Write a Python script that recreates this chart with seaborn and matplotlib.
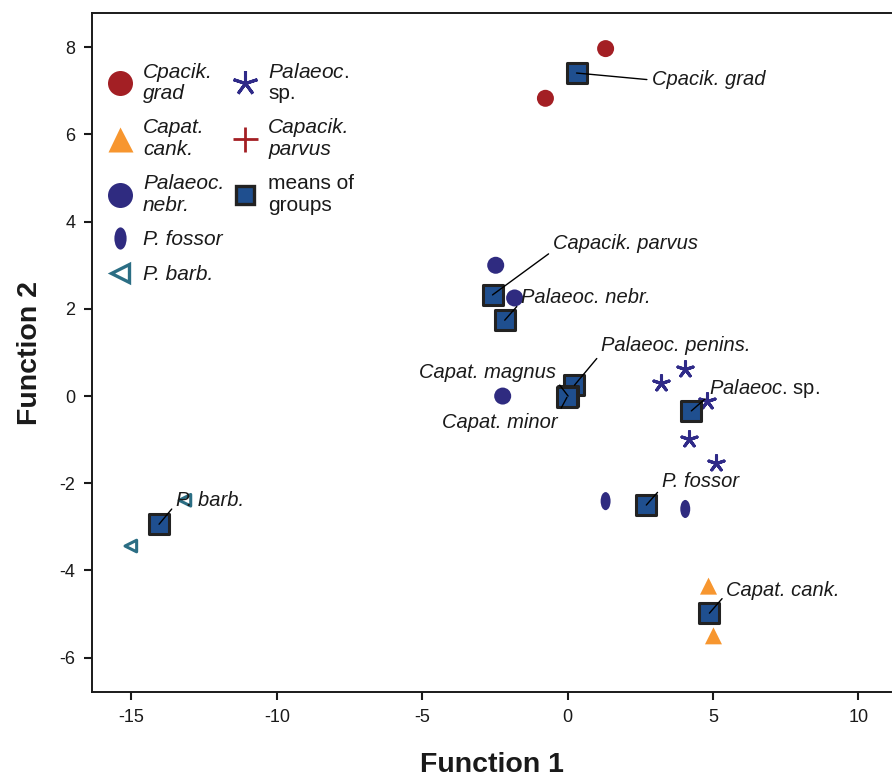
import matplotlib
matplotlib.use("Agg")
import matplotlib.pyplot as plt
import seaborn as sns
import numpy as np
import pandas as pd
from matplotlib.path import Path
from matplotlib.lines import Line2D
from matplotlib.transforms import Affine2D

# ---------------- data ----------------
grad_x = [1.31, -0.76]
grad_y = [7.97, 6.83]
cank_x = [4.85, 5.02]
cank_y = [-4.36, -5.50]
nebr_x = [-2.47, -1.82, -2.23]
nebr_y = [3.00, 2.25, 0.00]
fossor_x = [1.31, 4.05]
fossor_y = [-2.41, -2.59]
barb_x = [-13.16, -15.02]
barb_y = [-2.39, -3.44]
sp_x = [4.05, 3.20, 4.81, 4.19, 5.09]
sp_y = [0.62, 0.30, -0.11, -0.99, -1.54]

mean_names = ["Cpacik. grad", "Capacik. parvus", "Palaeoc. nebr.", "Palaeoc. penins.",
              "Capat. magnus", "Capat. minor", "Palaeoc. sp.", "P. fossor",
              "Capat. cank.", "P. barb."]
mean_x = [0.31, -2.58, -2.16, 0.24, 0.02, -0.02, 4.26, 2.71, 4.88, -14.05]
mean_y = [7.41, 2.32, 1.74, 0.25, 0.00, -0.03, -0.34, -2.50, -4.98, -2.94]

# label anchor positions (data coords)
label_x = [2.89, -0.50, -1.60, 1.15, -0.41, -0.34, 4.88, 3.24, 5.46, -13.47]
label_y = [7.25, 3.51, 2.25, 1.15, 0.55, -0.60, 0.18, -1.97, -4.45, -2.39]
label_ha = ["left", "left", "left", "left", "right", "right", "left", "left", "left", "left"]
label_rel = [(0, 0.5), (0, 0.1), (0, 0.3), (0, 0.1), (1, 0.1), (1, 0.9),
             (0, 0.2), (0, 0.2), (0, 0.3), (0, 0.3)]

xticks = [-15, -10, -5, 0, 5, 10]
yticks = [-6, -4, -2, 0, 2, 4, 6, 8]

# ---------------- style ----------------
sns.set_style("ticks")
plt.rcParams["font.family"] = ["Liberation Sans", "DejaVu Sans"]
plt.rcParams["axes.unicode_minus"] = False
plt.rcParams["mathtext.fontset"] = "custom"
plt.rcParams["mathtext.it"] = "Liberation Sans:italic"
plt.rcParams["mathtext.rm"] = "Liberation Sans"
plt.rcParams["mathtext.bf"] = "Liberation Sans:bold"

RED = "#a31f24"
ORANGE = "#f7962f"
NAVY = "#2f2b80"
STAR = "#2f2a88"
TEAL = "#2b6e84"
SQFILL = "#1f4f8f"
SQEDGE = "#222222"
TXT = "#1a1a1a"

ellipse = Path.unit_circle().transformed(Affine2D().scale(0.55, 1.0))
star5 = (5, 2, 0)

fig = plt.figure(figsize=(8.92, 7.82), dpi=100)
ax = fig.add_axes([0.103, 0.115, 0.896, 0.868])

sns.scatterplot(x=grad_x, y=grad_y, marker="o", s=150, color=RED, edgecolor="none", ax=ax, zorder=3)
sns.scatterplot(x=cank_x, y=cank_y, marker="^", s=150, color=ORANGE, edgecolor="none", ax=ax, zorder=3)
sns.scatterplot(x=nebr_x, y=nebr_y, marker="o", s=150, color=NAVY, edgecolor="none", ax=ax, zorder=3)
sns.scatterplot(x=fossor_x, y=fossor_y, marker=ellipse, s=170, color=NAVY, edgecolor="none", ax=ax, zorder=3)
ax.scatter(barb_x, barb_y, marker="<", s=70, facecolors="none", edgecolors=TEAL, linewidths=2.2, zorder=3)
ax.scatter(sp_x, sp_y, marker=star5, s=130, color=STAR, linewidths=2.2, zorder=3)
sns.scatterplot(x=mean_x, y=mean_y, marker="s", s=200, color=SQFILL, edgecolor=SQEDGE,
                linewidth=2.2, ax=ax, zorder=4)

for i, name in enumerate(mean_names):
    if name == "Palaeoc. sp.":
        txt, style = "$\\mathit{Palaeoc}$. sp.", "normal"
    else:
        txt, style = name, "italic"
    ax.annotate(txt, xy=(mean_x[i], mean_y[i]), xytext=(label_x[i], label_y[i]),
                ha=label_ha[i], va="center", fontsize=14.5, fontstyle=style, color=TXT,
                arrowprops=dict(arrowstyle="-", color="black", lw=1.0, shrinkA=1, shrinkB=0,
                                relpos=label_rel[i]), zorder=5)

ax.set_xlim(-16.36, 11.13)
ax.set_ylim(-6.79, 8.78)
ax.set_xticks(xticks)
ax.set_yticks(yticks)
ax.tick_params(axis="both", labelsize=13, length=6, width=1.5, direction="out", colors=TXT,
               pad=6)
for side in ["left", "bottom", "top"]:
    ax.spines[side].set_linewidth(1.4)
    ax.spines[side].set_color(TXT)
ax.spines["right"].set_visible(False)
ax.spines["top"].set_visible(True)
ax.set_xlabel("Function 1", fontsize=20.5, fontweight="bold", labelpad=19, color=TXT)
ax.set_ylabel("Function 2", fontsize=20.5, fontweight="bold", labelpad=12, color=TXT)

# legend
h = [
    Line2D([], [], ls="none", marker="o", ms=18, color=RED, mec="none"),
    Line2D([], [], ls="none", marker="^", ms=18, color=ORANGE, mec="none"),
    Line2D([], [], ls="none", marker="o", ms=18, color=NAVY, mec="none"),
    Line2D([], [], ls="none", marker=ellipse, ms=16, color=NAVY, mec="none"),
    Line2D([], [], ls="none", marker="<", ms=13, mfc="none", mec=TEAL, mew=2.4),
    Line2D([], [], ls="none", marker=star5, ms=18, color=STAR, mew=2.2),
    Line2D([], [], ls="none", marker="+", ms=18, color=RED, mew=2.0),
    Line2D([], [], ls="none", marker="s", ms=13, mfc=SQFILL, mec=SQEDGE, mew=2.4),
    Line2D([], [], ls="none", marker="none"),
    Line2D([], [], ls="none", marker="none"),
]
labs = ["Cpacik.\ngrad", "Capat.\ncank.", "Palaeoc.\nnebr.", "P. fossor", "P. barb.",
        "Palaeoc.\nsp.", "Capacik.\nparvus", "means of\ngroups", "", ""]
leg = ax.legend(h, labs, ncol=2, loc="upper left", bbox_to_anchor=(-0.005, 0.955),
                frameon=False, fontsize=15, handlelength=1.3, handletextpad=0.45,
                columnspacing=0.36, labelspacing=0.75, borderaxespad=0.5)
for t in leg.get_texts():
    s = t.get_text()
    if s.startswith("Palaeoc.\nsp"):
        t.set_text("$\\mathit{Palaeoc.}$\nsp.")
    elif s.startswith("means"):
        pass
    else:
        t.set_fontstyle("italic")
    t.set_color(TXT)
    t.set_linespacing(1.15)

fig.savefig("out.png", dpi=100)
